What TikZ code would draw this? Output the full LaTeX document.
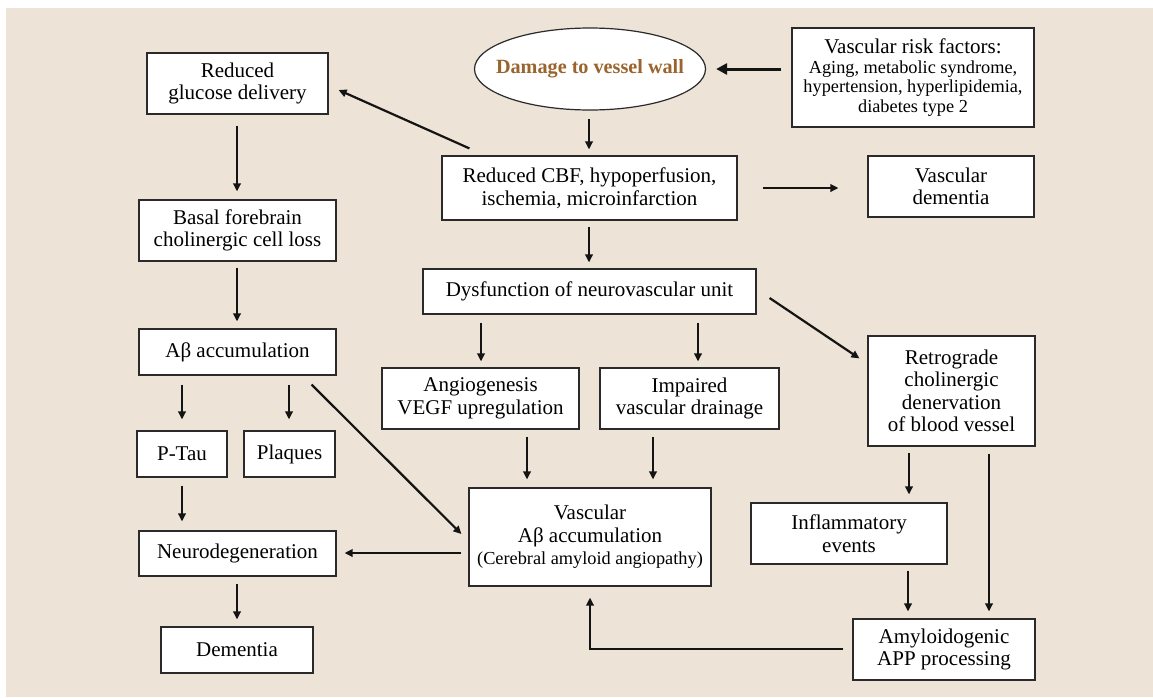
\documentclass[tikz,border=0pt]{standalone}
\usepackage{fontspec}
\setmainfont{Liberation Serif}
\usetikzlibrary{arrows.meta,shapes.geometric}
\definecolor{bgc}{HTML}{EDE3D6}
\definecolor{brownt}{HTML}{9A642C}
\definecolor{edgec}{HTML}{2A2A2A}
\tikzset{
  box/.style={draw=edgec, line width=1.2pt, fill=white, rectangle, inner sep=0pt, align=center,
    font=\fontsize{21}{22.5}\selectfont},
  arr/.style={draw=black!92, line width=2.2pt, -{Triangle[length=8pt,width=7.5pt]},
    shorten <=7pt, shorten >=7pt},
  bigarr/.style={draw=black!92, line width=3pt, -{Triangle[length=11pt,width=11pt]},
    shorten <=10pt, shorten >=10pt}
}
\newcommand{\smallt}{\fontsize{18.3}{19.5}\selectfont}
\begin{document}
\begin{tikzpicture}[x=1pt,y=-1pt]
\useasboundingbox (0,0) rectangle (1153,697);
\fill[bgc] (6,8) rectangle (1153,697);

% nodes
\node[box, minimum width=181pt, minimum height=61pt] (glu) at (237.5,83.5) {Reduced\\glucose delivery};
\node[box, minimum width=197pt, minimum height=61pt] (basal) at (237.5,230.5) {Basal forebrain\\cholinergic cell loss};
\node[box, minimum width=197pt, minimum height=46pt] (abeta) at (237.5,352) {Aβ accumulation};
\node[box, minimum width=90pt, minimum height=46pt] (ptau) at (182,454) {P-Tau};
\node[box, minimum width=91pt, minimum height=46pt] (plaq) at (289.5,454) {Plaques};
\node[box, minimum width=197pt, minimum height=45pt] (neuro) at (237.5,553.5) {Neurodegeneration};
\node[box, minimum width=152pt, minimum height=46pt] (dem) at (237,650) {Dementia};
\node[draw=edgec, line width=1.2pt, fill=white, ellipse, inner sep=0pt, minimum width=231pt, minimum height=82pt,
  font=\fontsize{20.2}{23}\selectfont\bfseries, text=brownt] (ell) at (590,69) {\makebox[0pt]{Damage to vessel wall}};
\node[box, minimum width=242pt, minimum height=99pt] (risk) at (913,77.5)
  {Vascular risk factors:\\[-3pt]{\smallt Aging, metabolic syndrome,}\\[-3pt]{\smallt hypertension, hyperlipidemia,}\\[-3pt]{\smallt diabetes type 2}};
\node[box, minimum width=295pt, minimum height=64pt] (cbf) at (589.5,188) {Reduced CBF, hypoperfusion,\\ischemia, microinfarction};
\node[box, minimum width=166pt, minimum height=61pt] (vdem) at (951,186.5) {Vascular\\dementia};
\node[box, minimum width=333pt, minimum height=45pt] (dys) at (589.5,291.5) {Dysfunction of neurovascular unit};
\node[box, minimum width=197pt, minimum height=61pt] (angio) at (480.5,398.5) {Angiogenesis\\VEGF upregulation};
\node[box, minimum width=179pt, minimum height=61pt] (imp) at (689.5,398.5) {Impaired\\vascular drainage};
\node[box, minimum width=167pt, minimum height=110pt] (retro) at (951.5,391) {Retrograde\\cholinergic\\denervation\\of blood vessel};
\node[box, minimum width=242pt, minimum height=98pt] (vasc) at (590,537) {Vascular\\Aβ accumulation\\{\smallt (Cerebral amyloid angiopathy)}};
\node[box, minimum width=196pt, minimum height=61pt] (infl) at (849,533.5) {Inflammatory\\events};
\node[box, minimum width=182pt, minimum height=61pt] (amy) at (944,649.5) {Amyloidogenic\\APP processing};

% connectors
\draw[bigarr] (ell.east -| risk.west) -- (ell.east);
\draw[arr, shorten <=8pt, shorten >=6pt] (589,0 |- ell.south) -- (589,0 |- cbf.north);
\draw[arr, shorten <=0pt, shorten >=0pt] ([xshift=28pt,yshift=7pt]cbf.north west) -- ([xshift=10pt,yshift=-6.5pt]glu.east);
\draw[arr, shorten <=11pt, shorten >=8pt] (237,0 |- glu.south) -- (237,0 |- basal.north);
\draw[arr, shorten <=6pt] (237,0 |- basal.south) -- (237,0 |- abeta.north);
\draw[arr, shorten <=9pt, shorten >=11pt] (182,0 |- abeta.south) -- (182,0 |- ptau.north);
\draw[arr, shorten <=9pt, shorten >=11pt] (289,0 |- abeta.south) -- (289,0 |- plaq.north);
\draw[arr, shorten <=0pt, shorten >=0pt] ([xshift=-25pt,yshift=-9pt]abeta.south east) -- ([xshift=-7pt,yshift=3pt]vasc.west);
\draw[arr, shorten <=8pt, shorten >=9pt] (182,0 |- ptau.south) -- (182,0 |- neuro.north);
\draw[arr, shorten <=7pt, shorten >=8pt] (vasc.west |- 0,553) -- (neuro.east |- 0,553);
\draw[arr, shorten <=7pt, shorten >=7pt] (237,0 |- neuro.south) -- (237,0 |- dem.north);
\draw[arr, shorten <=25pt, shorten >=29pt] (cbf.east |- 0,188) -- (vdem.west |- 0,188);
\draw[arr, shorten <=6pt, shorten >=6pt] (589,0 |- cbf.south) -- (589,0 |- dys.north);
\draw[arr, shorten <=0pt, shorten >=0pt] ([xshift=13pt,yshift=-6.5pt]dys.east) -- ([xshift=-8pt,yshift=-23pt]retro.north west);
\draw[arr, shorten <=8pt, shorten >=6pt] (481,0 |- dys.south) -- (481,0 |- angio.north);
\draw[arr, shorten <=8pt, shorten >=6pt] (698,0 |- dys.south) -- (698,0 |- imp.north);
\draw[arr, shorten <=7pt, shorten >=8pt] (527,0 |- angio.south) -- (527,0 |- vasc.north);
\draw[arr, shorten <=7pt, shorten >=8pt] (653,0 |- imp.south) -- (653,0 |- vasc.north);
\draw[arr, shorten <=6pt, shorten >=8pt] (909,0 |- retro.south) -- (909,0 |- infl.north);
\draw[arr, shorten <=7pt, shorten >=7pt] (989,0 |- retro.south) -- (989,0 |- amy.north);
\draw[arr, shorten <=6pt, shorten >=7pt] (908,0 |- infl.south) -- (908,0 |- amy.north);
\draw[arr, shorten <=9pt, shorten >=11pt] (amy.west |- 0,649) -| (vasc.south);
\end{tikzpicture}
\end{document}
